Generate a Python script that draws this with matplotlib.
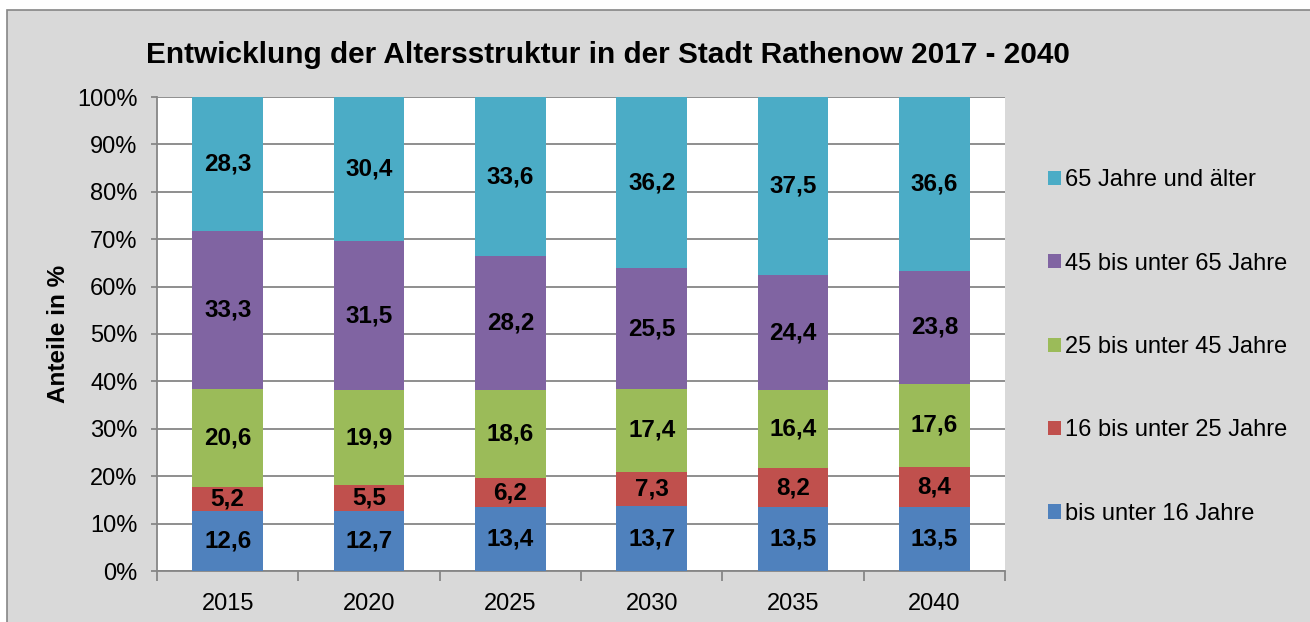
import numpy as np
import matplotlib.pyplot as plt
from matplotlib.patches import Rectangle

plt.rcParams['font.family'] = ['Liberation Sans', 'DejaVu Sans']

jahre = ['2015', '2020', '2025', '2030', '2035', '2040']
gruppen = ['bis unter 16 Jahre', '16 bis unter 25 Jahre', '25 bis unter 45 Jahre',
           '45 bis unter 65 Jahre', '65 Jahre und älter']
u16 = [12.6, 12.7, 13.4, 13.7, 13.5, 13.5]
u25 = [5.2, 5.5, 6.2, 7.3, 8.2, 8.4]
u45 = [20.6, 19.9, 18.6, 17.4, 16.4, 17.6]
u65 = [33.3, 31.5, 28.2, 25.5, 24.4, 23.8]
ue65 = [28.3, 30.4, 33.6, 36.2, 37.5, 36.6]
farben = ['#4F81BD', '#C0504D', '#9BBB59', '#8064A2', '#4BACC6']

werte = np.array([u16, u25, u45, u65, ue65])
anteile = werte / werte.sum(axis=0) * 100

fig = plt.figure(figsize=(13.1, 6.22), dpi=100, facecolor='white')
# grauer Rahmen
fig.patches.append(Rectangle((7/1310, -0.1), 1.2, 1 - 10/622 + 0.1, transform=fig.transFigure,
                             facecolor='#D9D9D9', edgecolor='#868686', linewidth=1.2, zorder=-10))

ax = fig.add_axes([157/1310, 51/622, 848/1310, 474/622])
ax.set_facecolor('white')

x = np.arange(len(jahre))
unten = np.zeros(len(jahre))
handles = []
for i in range(len(gruppen)):
    b = ax.bar(x, anteile[i], 0.5, bottom=unten, color=farben[i], label=gruppen[i], zorder=3)
    handles.append(b)
    for j in range(len(jahre)):
        ax.text(x[j], unten[j] + anteile[i][j] / 2, f'{werte[i][j]:.1f}'.replace('.', ','),
                ha='center', va='center', fontsize=17.5, fontweight='bold', zorder=4)
    unten += anteile[i]

ax.set_xlim(-0.5, len(jahre) - 0.5)
ax.set_ylim(0, 100)
ax.set_yticks(np.arange(0, 101, 10))
ax.set_yticklabels([f'{v}%' for v in range(0, 101, 10)], fontsize=17)
ax.yaxis.grid(True, color='#868686', linewidth=1.3, zorder=0)
ax.set_xticks(np.arange(-0.5, len(jahre), 1))
ax.set_xticklabels([])
ax.set_xticks(x, minor=True)
ax.set_xticklabels(jahre, minor=True, fontsize=17)
ax.tick_params(axis='x', which='minor', length=0, pad=16)
ax.tick_params(axis='x', which='major', length=7, color='#868686', width=1.3)
ax.tick_params(axis='y', length=4, color='#868686', width=1.3, pad=10)
for s in ['top', 'right']:
    ax.spines[s].set_visible(False)
for s in ['left', 'bottom']:
    ax.spines[s].set_color('#868686')
    ax.spines[s].set_linewidth(1.3)

ax.set_ylabel('Anteile in %', fontsize=17.5, fontweight='bold', labelpad=5)
fig.text(608/1310, 1 - 55/622, 'Entwicklung der Altersstruktur in der Stadt Rathenow 2017 - 2040',
         ha='center', va='center', fontsize=21.4, fontweight='bold')

fig.legend(handles[::-1], gruppen[::-1], loc='center left', bbox_to_anchor=(1027/1310, 1 - 347/622),
           frameon=False, fontsize=17, handlelength=0.55, handleheight=0.55,
           handletextpad=0.15, labelspacing=2.6)

fig.savefig('out.png', dpi=100, facecolor=fig.get_facecolor())
